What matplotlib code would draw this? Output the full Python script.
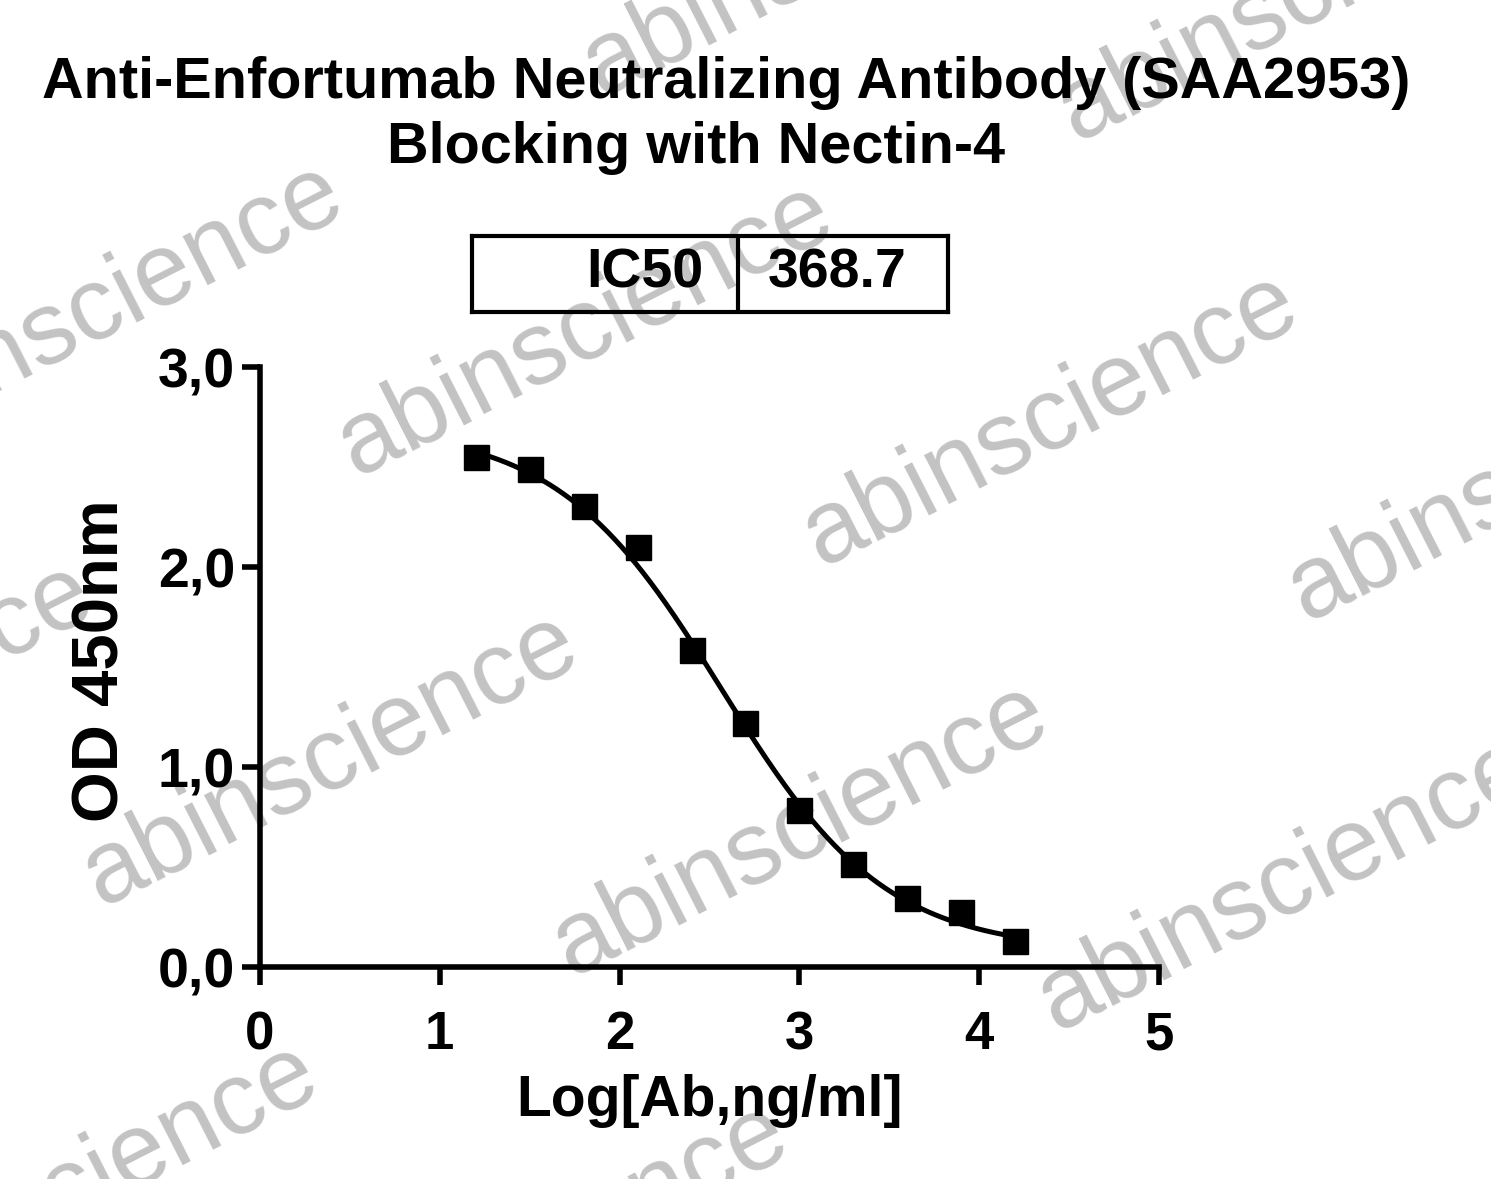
import numpy as np
import matplotlib
matplotlib.use("Agg")
import matplotlib.pyplot as plt

# 数据: log浓度 与 OD450
log_conc = [1.2, 1.5, 1.8, 2.1, 2.4, 2.7, 3.0, 3.3, 3.6, 3.9, 4.2]
od450 = [2.55, 2.49, 2.305, 2.10, 1.585, 1.22, 0.785, 0.515, 0.345, 0.275, 0.13]

# 4PL 拟合参数
IC50 = 368.7
TOP = 2.70
BOTTOM = 0.08
HILL = 0.95

x_ticks = [0, 1, 2, 3, 4, 5]
y_ticks = [0.0, 1.0, 2.0, 3.0]
y_tick_labels = ["0,0", "1,0", "2,0", "3,0"]

TITLE_1 = "Anti-Enfortumab Neutralizing Antibody (SAA2953)"
TITLE_2 = "Blocking with Nectin-4"

# 水印位置 (figure 像素中心, 1491x1179)
WM_POS = [(830, -50), (1305, -5), (95, 310), (585, 330), (1050, 420),
          (1535, 475), (-155, 710), (330, 760), (800, 830), (1285, 885),
          (70, 1190), (540, 1250)]

W, H = 1491, 1179
plt.rcParams['font.family'] = ['Liberation Sans', 'DejaVu Sans']

fig = plt.figure(figsize=(W / 100, H / 100), dpi=100)
fig.patch.set_facecolor('white')

for (px, py) in WM_POS:
    fig.text(px / W, 1 - py / H, "abinscience", fontsize=74, color='#c3c3c3',
             rotation=27, ha='center', va='center', zorder=-5)

ax = fig.add_axes([260 / W, 1 - 967 / H, 899 / W, 600 / H])
ax.set_zorder(1)
ax.patch.set_alpha(0)

# 拟合曲线
xs = np.linspace(min(log_conc), max(log_conc), 300)
ys = BOTTOM + (TOP - BOTTOM) / (1 + 10 ** ((xs - np.log10(IC50)) * HILL))
ax.plot(xs, ys, color='black', lw=3.6, solid_capstyle='butt', zorder=2)
ax.plot(log_conc, od450, 's', color='black', markersize=18, zorder=3, clip_on=False)

ax.set_xlim(0, 5)
ax.set_ylim(0, 3)
ax.set_xticks(x_ticks)
ax.set_yticks(y_ticks)
ax.set_yticklabels(y_tick_labels)
for s in ['top', 'right']:
    ax.spines[s].set_visible(False)
for s in ['left', 'bottom']:
    ax.spines[s].set_linewidth(4)
    ax.spines[s].set_capstyle('projecting')
ax.tick_params(axis='both', width=4, length=13, labelsize=40)
ax.tick_params(axis='y', pad=5)
ax.tick_params(axis='x', pad=18, labelsize=38)
for lab in ax.get_xticklabels() + ax.get_yticklabels():
    lab.set_fontweight('bold')

ax.set_xlabel("Log[Ab,ng/ml]", fontsize=41, fontweight='bold')
ax.set_ylabel("OD 450nm", fontsize=47, fontweight='bold')
ax.xaxis.set_label_coords(0.5, -0.178)
ax.yaxis.set_label_coords(-0.143, 0.51)

fig.text(726 / W, 1 - 98 / H, TITLE_1, fontsize=41.5, fontweight='bold',
         ha='center', va='baseline')
fig.text(696 / W, 1 - 163 / H, TITLE_2, fontsize=41.5, fontweight='bold',
         ha='center', va='baseline')

# IC50 表格
box_ax = fig.add_axes([472 / W, 1 - 312 / H, 476 / W, 76 / H])
box_ax.set_xlim(0, 476)
box_ax.set_ylim(0, 76)
box_ax.set_xticks([])
box_ax.set_yticks([])
box_ax.patch.set_alpha(0)
for s in box_ax.spines.values():
    s.set_linewidth(3)
box_ax.axvline(266, color='black', lw=3)
box_ax.text(231, 38, "IC50", fontsize=40, fontweight='bold', ha='right', va='center')
box_ax.text(296, 38, "%.1f" % IC50, fontsize=40, fontweight='bold', ha='left', va='center')

fig.savefig("out.png", dpi=100)
